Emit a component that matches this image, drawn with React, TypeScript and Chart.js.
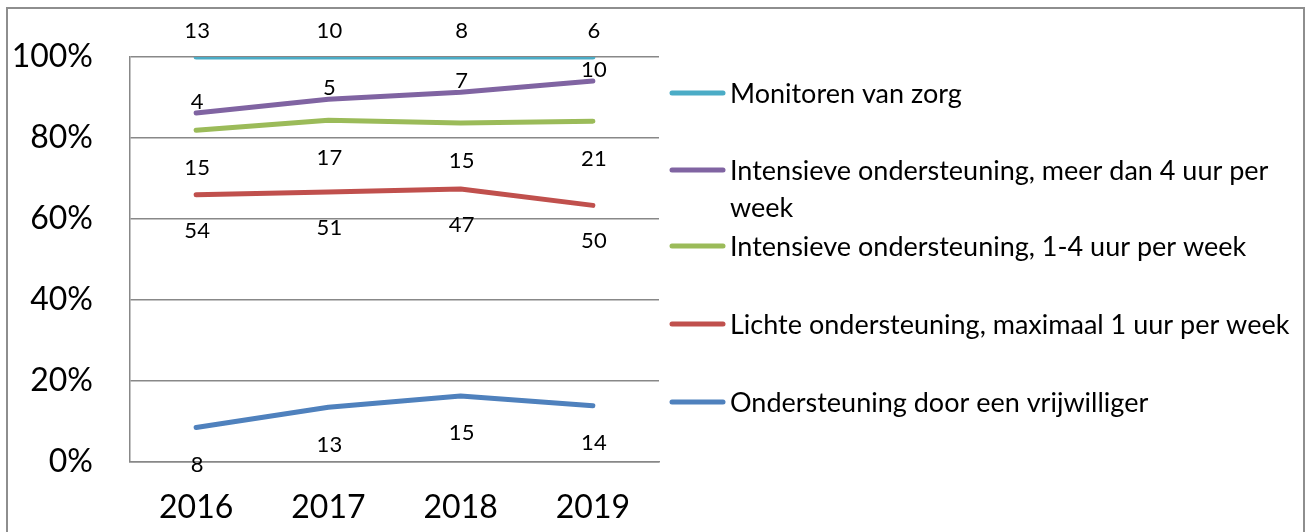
import React, { useEffect, useRef } from "react";
import { Chart, registerables } from "chart.js";
Chart.register(...registerables);

// ---- data ----
const years = ["2016", "2017", "2018", "2019"];
const vrijwilliger = [8, 13, 15, 14];
const lichte = [54, 51, 47, 50];
const intensief14 = [15, 17, 15, 21];
const intensief4plus = [4, 5, 7, 10];
const monitoren = [13, 10, 8, 6];
const yTicks = [0, 20, 40, 60, 80, 100];

const seriesNames = [
  "Ondersteuning door een vrijwilliger",
  "Lichte ondersteuning, maximaal 1 uur per week",
  "Intensieve ondersteuning, 1-4 uur per week",
  "Intensieve ondersteuning, meer dan 4 uur per week",
  "Monitoren van zorg",
];
const seriesValues = [vrijwilliger, lichte, intensief14, intensief4plus, monitoren];

// ---- styles ----
const colors = ["#4F81BD", "#C0504D", "#9BBB59", "#8064A2", "#4BACC6"];
const labelOffsets = [36.5, 35, 37, -12, -27];
const legendLines: string[][] = [
  ["Monitoren van zorg"],
  ["Intensieve ondersteuning, meer dan 4 uur per", "week"],
  ["Intensieve ondersteuning, 1-4 uur per week"],
  ["Lichte ondersteuning, maximaal 1 uur per week"],
  ["Ondersteuning door een vrijwilliger"],
];
const legendColorIdx = [4, 3, 2, 1, 0];
const legendY = [93, 170, 246, 324, 402];
const FONT = "Lato";

// 100% stacked cumulative percentages
const totals = years.map((_, i) => seriesValues.reduce((s, arr) => s + arr[i], 0));
const cumulative = seriesValues.map((_, si) =>
  years.map((_, i) => {
    let s = 0;
    for (let k = 0; k <= si; k++) s += seriesValues[k][i];
    return (s / totals[i]) * 100;
  })
);

const labelPlugin = {
  id: "valueLabels",
  afterDatasetsDraw(chart: any) {
    const ctx = chart.ctx;
    ctx.save();
    ctx.font = `22px ${FONT}`;
    ctx.fillStyle = "#000";
    ctx.textAlign = "center";
    ctx.textBaseline = "alphabetic";
    chart.data.datasets.forEach((ds: any, di: number) => {
      const meta = chart.getDatasetMeta(di);
      meta.data.forEach((pt: any, i: number) => {
        ctx.fillText(String(ds.counts[i]), pt.x + 1, pt.y + labelOffsets[di] + 8);
      });
    });
    ctx.restore();
  },
};

const legendPlugin = {
  id: "customLegend",
  afterDraw(chart: any) {
    const ctx = chart.ctx;
    ctx.save();
    ctx.font = `27px ${FONT}`;
    ctx.fillStyle = "#000";
    ctx.textAlign = "left";
    ctx.textBaseline = "alphabetic";
    legendLines.forEach((lines, li) => {
      const y = legendY[li];
      ctx.strokeStyle = colors[legendColorIdx[li]];
      ctx.lineWidth = 5;
      ctx.lineCap = "round";
      ctx.beginPath();
      ctx.moveTo(672, y);
      ctx.lineTo(723, y);
      ctx.stroke();
      lines.forEach((t, k) => {
        ctx.fillText(t, 730, y + 10 + k * 37);
      });
    });
    ctx.restore();
  },
};

export default function App() {
  const ref = useRef<HTMLCanvasElement | null>(null);
  useEffect(() => {
    document.documentElement.style.overflow = "hidden";
    document.body.style.overflow = "hidden";
    if (!ref.current) return;
    const chart = new Chart(ref.current, {
      type: "line",
      data: {
        labels: years,
        datasets: seriesNames.map((name, si) => ({
          label: name,
          data: cumulative[si],
          counts: seriesValues[si],
          borderColor: colors[si],
          backgroundColor: colors[si],
          borderWidth: 5,
          borderCapStyle: "round",
          borderJoinStyle: "round",
          pointRadius: 0,
          tension: 0,
          fill: false,
        })) as any,
      },
      options: {
        animation: false,
        responsive: false,
        maintainAspectRatio: false,
        layout: { padding: { left: 0, top: 57, right: 1306 - 659, bottom: 0 } },
        plugins: { legend: { display: false }, tooltip: { enabled: false } },
        scales: {
          x: {
            type: "category",
            offset: true,
            grid: { display: false, drawTicks: false },
            border: { display: true, color: "#888888", width: 1.5 },
            ticks: { color: "#000", font: { family: FONT, size: 32 }, padding: 26 },
            afterFit: (s: any) => {
              s.height = 70;
            },
          },
          y: {
            min: 0,
            max: 100,
            grid: { color: "#888888", lineWidth: 1.5, drawTicks: false },
            border: { display: true, color: "#888888", width: 1.5 },
            ticks: {
              color: "#000",
              font: { family: FONT, size: 32 },
              padding: 37,
              callback: (v: any) => `${v}%`,
            },
            afterBuildTicks: (s: any) => {
              s.ticks = yTicks.map((v) => ({ value: v }));
            },
            afterFit: (s: any) => {
              s.width = 130;
            },
          },
        },
      },
      plugins: [labelPlugin, legendPlugin],
    });
    return () => chart.destroy();
  }, []);

  return (
    <div>
      <canvas
        ref={ref}
        width={1306}
        height={532}
        style={{ position: "fixed", left: 0, top: 0, width: 1306, height: 532, display: "block", background: "#fff" }}
      />
      <div
        style={{
          position: "fixed",
          left: 6,
          top: 7,
          width: 1299,
          height: 540,
          border: "2px solid #8e8e8e",
          boxSizing: "border-box",
          pointerEvents: "none",
        }}
      />
    </div>
  );
}
